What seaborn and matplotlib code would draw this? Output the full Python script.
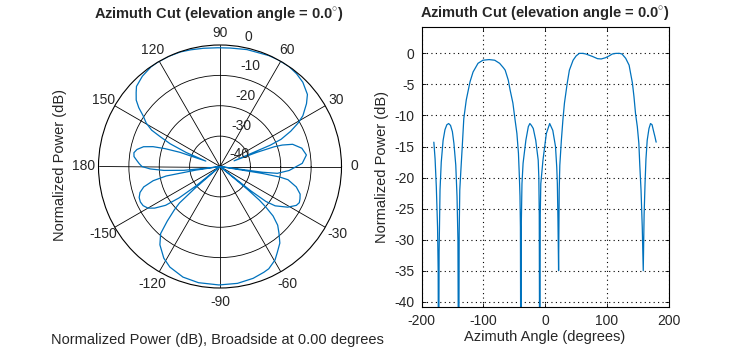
import numpy as np
import pandas as pd
import matplotlib
matplotlib.use("Agg")
import matplotlib.pyplot as plt
import seaborn as sns

# Azimuth cut of the array response (degrees, normalized power in dB)
azimuth_deg = [
    -180, -178, -176, -174, -173, -172.3, -171.5, -170, -168, -165, -162,
    -159, -156, -153, -150, -147.5, -144.5, -142.5, -141, -139.8, -139, -138,
    -136.5, -134, -131.5, -127.5, -121.5, -116.5, -108.5, -100.5, -90.5,
    -81.5, -73.5, -67.5, -64.5, -59.5, -56.5, -52, -48.5, -45.5, -43, -41.5,
    -40.5, -39.8, -39.1, -38.3, -37.3, -35.5, -31, -27, -24.5, -22, -19, -15,
    -11, -10, -9.3, -8.5, -7.7, -6.8, -3.3, 2.2, 7.6, 12.6, 17, 19, 20, 21,
    22, 23, 24, 26.5, 29, 31.5, 36, 39.5, 45.5, 50.5, 55.5, 61.5, 66.2, 77,
    85, 91, 98, 104, 109, 114.8, 120.8, 124.7, 130.7, 136.2, 138.6, 141.6,
    144.1, 146.6, 149.5, 152, 153.5, 155.5, 157.5, 159.1, 160.5, 162, 163.5,
    165.5, 168.4, 170.9, 173.4, 176, 178, 180,
]
power_db = [
    -14.3, -17.0, -21.5, -28.0, -35.0, -60.0, -32.0, -22.0, -17.5, -14.0,
    -12.3, -11.5, -11.3, -11.6, -12.6, -14.5, -18.0, -23.0, -30.0, -60.0,
    -29.0, -22.0, -19.3, -15.0, -10.5, -7.5, -4.6, -3.0, -1.6, -1.1, -1.0,
    -1.1, -1.6, -2.3, -2.7, -4.3, -5.9, -8.0, -10.7, -12.9, -16.1, -19.9,
    -23.0, -28.0, -60.0, -27.0, -21.0, -17.7, -14.0, -11.8, -11.3, -11.6,
    -12.1, -14.0, -17.2, -20.0, -26.0, -60.0, -26.0, -21.0, -17.2, -12.9,
    -11.3, -12.4, -15.0, -18.3, -21.0, -27.0, -35.0, -22.0, -18.0, -14.0,
    -10.7, -8.0, -4.8, -2.7, -1.1, -0.4, 0.0, 0.0, -0.1, -0.5, -0.85, -0.9,
    -0.7, -0.4, -0.1, 0.0, 0.0, -0.1, -0.8, -1.9, -3.2, -4.8, -7.0, -9.7,
    -11.8, -14.5, -18.0, -22.0, -28.0, -35.0, -26.0, -21.0, -17.0, -14.0,
    -12.1, -11.3, -11.5, -12.6, -13.4, -14.3,
]

theta_ticks = [0, 30, 60, 90, 120, 150, 180, 210, 240, 270, 300, 330]
theta_labels = ["0", "30", "60", "90", "120", "150", "180",
                "-150", "-120", "-90", "-60", "-30"]
ring_levels = [0, -10, -20, -30, -40]
az_ticks = [-200, -100, 0, 100, 200]
pow_ticks = [0, -5, -10, -15, -20, -25, -30, -35, -40]

title_text = r"Azimuth Cut (elevation angle = 0.0$^{\circ}$)"
line_color = "#0072BD"

sns.set_style("white")
plt.rcParams["font.family"] = ["Liberation Sans", "DejaVu Sans"]
plt.rcParams["mathtext.fontset"] = "custom"
plt.rcParams["mathtext.rm"] = "Liberation Sans"
plt.rcParams["mathtext.bf"] = "Liberation Sans:bold"

df = pd.DataFrame({"az": azimuth_deg, "pwr": power_db})
df["theta"] = np.deg2rad(df["az"])
df["pwr_clip"] = df["pwr"].clip(lower=-40)

W, H = 738, 349
fig = plt.figure(figsize=(W / 100, H / 100), dpi=100)


def box(x0, y0, x1, y1):
    return [x0 / W, 1 - y1 / H, (x1 - x0) / W, (y1 - y0) / H]


# ---- polar pattern ----
cx, cy, R = 220, 166.5, 121.5
pax = fig.add_axes(box(cx - R, cy - R, cx + R, cy + R), projection="polar")
sns.lineplot(data=df, x="theta", y="pwr_clip", ax=pax, sort=False,
             color=line_color, lw=0.9, estimator=None)
pax.set_theta_zero_location("E")
pax.set_ylim(-40, 0)
pax.set_thetagrids(theta_ticks, labels=[""] * len(theta_ticks))
pax.set_rgrids([-30, -20, -10], labels=["", "", ""])
pax.grid(True, color="black", lw=0.6, ls="-")
pax.spines["polar"].set_color("black")
pax.spines["polar"].set_linewidth(0.8)
pax.set_xlabel("")
pax.set_ylabel("")

# angle labels just outside the outer ring
for ang, lab in zip(theta_ticks, theta_labels):
    rr = 4.1 if ang <= 180 else 4.5
    if ang == 180:
        rr = 5.0
    pax.text(np.deg2rad(ang), rr, lab, ha="center", va="center",
             fontsize=10, clip_on=False)

# ring labels, stepped along a line near the 80 degree spoke
ring_label_pos = [(77.7, 3.8), (73.3, -5.6), (70.3, -15.5), (62.0, -24.9), (32.0, -32.3)]
for lvl, (ang, rr) in zip(ring_levels, ring_label_pos):
    pax.text(np.deg2rad(ang), rr, str(lvl), ha="center", va="center",
             fontsize=10, clip_on=False)

fig.text(219 / W, 1 - 15 / H, title_text, ha="center", va="center",
         fontsize=10.5, fontweight="bold")
fig.text(60 / W, 1 - 165 / H, "Normalized Power (dB)", ha="center",
         va="center", rotation=90, fontsize=10.5)
fig.text(217 / W, 1 - 340 / H, "Normalized Power (dB), Broadside at 0.00 degrees",
         ha="center", va="center", fontsize=10.5)

# ---- rectangular cut ----
ax = fig.add_axes(box(421.5, 27.3, 668.5, 306.7))
sns.lineplot(data=df, x="az", y="pwr", ax=ax, sort=False,
             color=line_color, lw=0.9, estimator=None)
ax.set_xlim(-200, 200)
ax.set_ylim(-40.8, 4.2)
ax.set_xticks(az_ticks)
ax.set_yticks(pow_ticks)
ax.set_xticklabels([str(t) for t in az_ticks], fontsize=10)
ax.set_yticklabels([str(t) for t in pow_ticks], fontsize=10)
ax.grid(True, color="black", ls=(0, (1, 3)), lw=0.8)
ax.tick_params(direction="in", length=3, width=0.6, color="black",
               top=True, right=True, bottom=True, left=True, pad=5)
for sp in ax.spines.values():
    sp.set_visible(True)
    sp.set_color("black")
    sp.set_linewidth(0.8)
ax.set_xlabel("Azimuth Angle (degrees)", fontsize=10.5, labelpad=2)
ax.set_ylabel("Normalized Power (dB)", fontsize=10.5, labelpad=4)
ax.set_title(title_text, fontsize=10.5, fontweight="bold", pad=7)

fig.savefig("out.png", dpi=100)
